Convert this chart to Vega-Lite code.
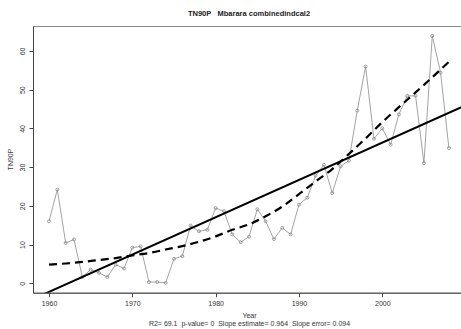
{
  "$schema": "https://vega.github.io/schema/vega-lite/v6.json",
  "autosize": "none",
  "width": 428,
  "height": 266.7,
  "padding": {"left": 33, "top": 26, "right": 0, "bottom": 36.3},
  "background": "white",
  "config": {
    "view": {"stroke": "#8a8a8a", "strokeWidth": 1},
    "font": "Liberation Sans",
    "axis": {"grid": false, "domainColor": "#444", "tickColor": "#444", "labelColor": "#333", "titleColor": "#333", "labelFont": "Liberation Sans", "titleFont": "Liberation Sans", "labelFontSize": 7, "titleFontSize": 7, "titleFontWeight": "normal", "tickSize": 4}
  },
  "title": {"text": "TN90P\u00a0\u00a0\u00a0Mbarara combinedindcal2", "fontSize": 7.5, "fontWeight": "bold", "font": "Liberation Sans", "color": "#222", "anchor": "middle", "offset": 9, "dx": 2},
  "datasets": {
    "series": [
      {"year": 1960, "value": 16.0}, {"year": 1961, "value": 24.2}, {"year": 1962, "value": 10.4},
      {"year": 1963, "value": 11.3}, {"year": 1964, "value": 1.6}, {"year": 1965, "value": 3.5},
      {"year": 1966, "value": 2.7}, {"year": 1967, "value": 1.6}, {"year": 1968, "value": 4.8},
      {"year": 1969, "value": 3.8}, {"year": 1970, "value": 9.2}, {"year": 1971, "value": 9.5},
      {"year": 1972, "value": 0.3}, {"year": 1973, "value": 0.3}, {"year": 1974, "value": 0.1},
      {"year": 1975, "value": 6.3}, {"year": 1976, "value": 7.0}, {"year": 1977, "value": 14.9},
      {"year": 1978, "value": 13.4}, {"year": 1979, "value": 13.8}, {"year": 1980, "value": 19.4},
      {"year": 1981, "value": 18.6}, {"year": 1982, "value": 12.6}, {"year": 1983, "value": 10.6},
      {"year": 1984, "value": 12.0}, {"year": 1985, "value": 19.1}, {"year": 1986, "value": 16.0},
      {"year": 1987, "value": 11.4}, {"year": 1988, "value": 14.3}, {"year": 1989, "value": 12.6},
      {"year": 1990, "value": 20.3}, {"year": 1991, "value": 22.1}, {"year": 1992, "value": 27.8},
      {"year": 1993, "value": 30.6}, {"year": 1994, "value": 23.3}, {"year": 1995, "value": 30.2},
      {"year": 1996, "value": 31.7}, {"year": 1997, "value": 44.6}, {"year": 1998, "value": 56.0},
      {"year": 1999, "value": 37.3}, {"year": 2000, "value": 40.0}, {"year": 2001, "value": 35.8},
      {"year": 2002, "value": 43.6}, {"year": 2003, "value": 48.4}, {"year": 2004, "value": 48.4},
      {"year": 2005, "value": 31.0}, {"year": 2006, "value": 63.9}, {"year": 2007, "value": 54.4},
      {"year": 2008, "value": 34.9}
    ],
    "trend": [
      {"year": 1958, "fit": -4.17}, {"year": 2010, "fit": 45.96}
    ],
    "smooth": [
      {"year": 1960, "s": 4.8}, {"year": 1962, "s": 5.1}, {"year": 1964, "s": 5.5},
      {"year": 1966, "s": 6.0}, {"year": 1968, "s": 6.5}, {"year": 1970, "s": 7.2},
      {"year": 1972, "s": 7.8}, {"year": 1974, "s": 8.7}, {"year": 1976, "s": 9.6},
      {"year": 1978, "s": 10.7}, {"year": 1980, "s": 12.1}, {"year": 1982, "s": 13.8},
      {"year": 1984, "s": 15.2}, {"year": 1986, "s": 17.3}, {"year": 1988, "s": 19.8},
      {"year": 1990, "s": 23.0}, {"year": 1992, "s": 26.3}, {"year": 1994, "s": 29.5},
      {"year": 1996, "s": 33.4}, {"year": 1998, "s": 37.4}, {"year": 2000, "s": 41.6},
      {"year": 2002, "s": 45.5}, {"year": 2004, "s": 49.3}, {"year": 2006, "s": 53.2},
      {"year": 2008, "s": 57.2}
    ]
  },
  "layer": [
    {
      "data": {"name": "series"},
      "mark": {"type": "line", "color": "#8c8c8c", "strokeWidth": 0.8, "clip": true},
      "encoding": {
        "x": {"field": "year", "type": "quantitative",
              "scale": {"domain": [1958.08, 2009.45], "nice": false, "zero": false},
              "axis": {"values": [1960, 1970, 1980, 1990, 2000], "format": "d", "labelPadding": 3,
                       "title": ["Year", "R2=\u00a069.1\u00a0\u00a0p-value=\u00a00\u00a0\u00a0Slope estimate=\u00a00.964\u00a0\u00a0Slope error=\u00a00.094"],
                       "titlePadding": 5, "titleLineHeight": 7.5, "titleX": 216}},
        "y": {"field": "value", "type": "quantitative",
              "scale": {"domain": [-2.45, 66.45], "nice": false, "zero": false},
              "axis": {"values": [0, 10, 20, 30, 40, 50, 60], "labelAngle": -90, "labelAlign": "center", "labelBaseline": "bottom", "labelPadding": 4,
                       "title": "TN90P", "titleAngle": -90, "titleX": -23, "titleY": 133, "titleAlign": "center", "titleBaseline": "middle"}}
      }
    },
    {
      "data": {"name": "series"},
      "mark": {"type": "point", "shape": "circle", "filled": false, "color": "#8c8c8c", "strokeWidth": 0.8, "size": 9, "opacity": 1, "clip": true},
      "encoding": {
        "x": {"field": "year", "type": "quantitative"},
        "y": {"field": "value", "type": "quantitative"}
      }
    },
    {
      "data": {"name": "trend"},
      "mark": {"type": "line", "color": "#000", "strokeWidth": 2, "clip": true},
      "encoding": {
        "x": {"field": "year", "type": "quantitative"},
        "y": {"field": "fit", "type": "quantitative"}
      }
    },
    {
      "data": {"name": "smooth"},
      "mark": {"type": "line", "color": "#000", "strokeWidth": 2.2, "strokeDash": [8, 5], "interpolate": "monotone", "clip": true},
      "encoding": {
        "x": {"field": "year", "type": "quantitative"},
        "y": {"field": "s", "type": "quantitative"}
      }
    }
  ]
}
